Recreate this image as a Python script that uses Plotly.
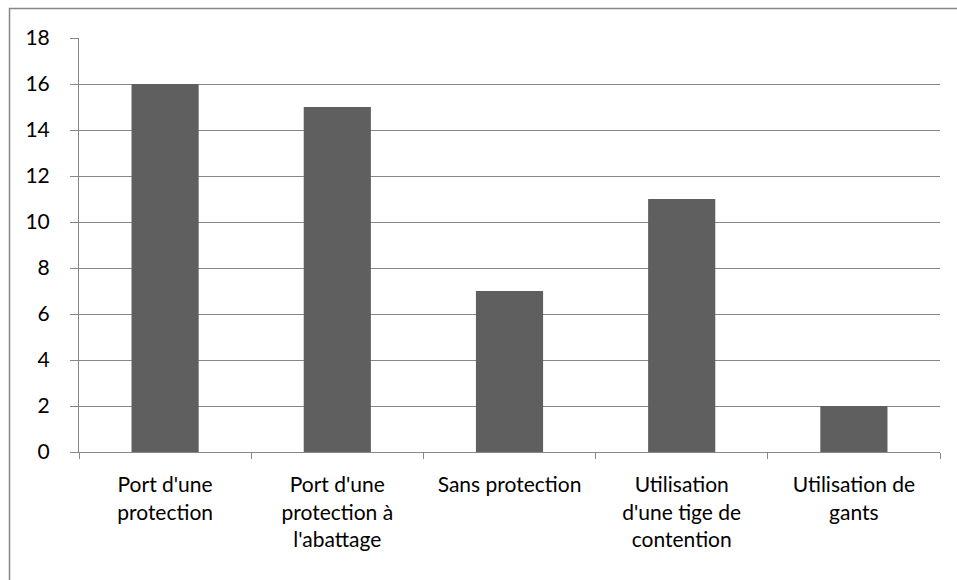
import plotly.graph_objects as go

# Protection methods and number of respondents
categories = [
    "Port d'une<br>protection",
    "Port d'une<br>protection à<br>l'abattage",
    "Sans protection",
    "Utilisation<br>d'une tige de<br>contention",
    "Utilisation de<br>gants",
]
counts = [16, 15, 7, 11, 2]
y_ticks = [0, 2, 4, 6, 8, 10, 12, 14, 16, 18]

bar_color = "#5f5f5f"
line_color = "#878787"
font_family = "Lato, 'Open Sans', sans-serif"
font_size = 21

fig = go.Figure(
    go.Bar(
        x=categories,
        y=counts,
        marker=dict(color=bar_color, line=dict(width=0)),
        hoverinfo="x+y",
    )
)

fig.update_layout(
    width=957,
    height=580,
    margin=dict(l=79, r=17, t=38, b=128),
    paper_bgcolor="white",
    plot_bgcolor="white",
    bargap=0.61,
    showlegend=False,
    font=dict(family=font_family, size=font_size, color="#000000"),
)

fig.update_xaxes(
    type="category",
    showline=True,
    linecolor=line_color,
    linewidth=1,
    ticks="outside",
    tickson="boundaries",
    ticklen=6,
    tickcolor=line_color,
    showgrid=False,
    ticklabelstandoff=14,
    tickfont=dict(family=font_family, size=font_size, color="#000000"),
)

fig.update_yaxes(
    range=[0, 18],
    tickvals=y_ticks,
    showline=True,
    linecolor=line_color,
    linewidth=1,
    ticks="outside",
    ticklen=8,
    tickcolor=line_color,
    showgrid=True,
    gridcolor=line_color,
    gridwidth=1,
    zeroline=False,
    ticklabelstandoff=16,
    tickfont=dict(family=font_family, size=font_size, color="#000000"),
)

# Outer chart frame
fig.add_shape(
    type="rect",
    xref="paper",
    yref="paper",
    x0=-0.0807,
    x1=1.1,
    y0=-0.4,
    y1=1.0713,
    line=dict(color=line_color, width=1.5),
    fillcolor="rgba(0,0,0,0)",
    layer="below",
)

fig.write_html("out.html")
